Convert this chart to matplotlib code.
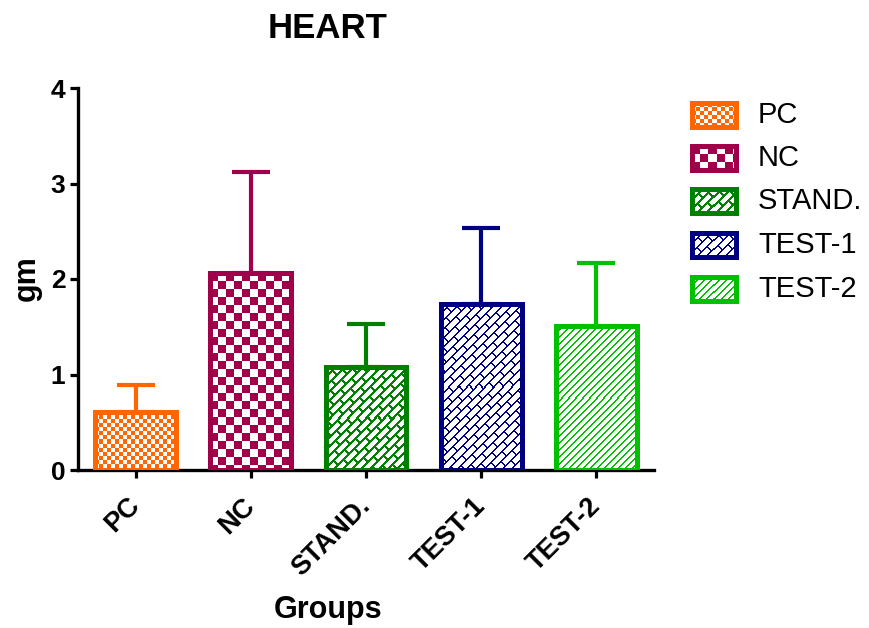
import numpy as np
import matplotlib
matplotlib.use("Agg")
import matplotlib.pyplot as plt
from matplotlib.patches import Rectangle

groups = ["PC", "NC", "STAND.", "TEST-1", "TEST-2"]
means = [0.61, 2.06, 1.08, 1.74, 1.51]
sds = [0.28, 1.06, 0.45, 0.79, 0.66]
y_ticks = [0, 1, 2, 3, 4]
colors = ["#FF6600", "#A0004A", "#008000", "#000080", "#00C000"]
patterns = ["check4", "check8", "brick_thick", "brick", "lines"]

plt.rcParams["font.family"] = ["Liberation Sans", "DejaVu Sans"]

W, H = 869, 628
fig = plt.figure(figsize=(W / 100, H / 100), dpi=100)
ax = fig.add_axes([78 / W, 1 - 470 / H, 576 / W, 382 / H])


def make_pattern(kind, nr, nc, color):
    i, j = np.mgrid[0:nr, 0:nc]
    if kind.startswith("check"):
        s = int(kind[5:])
        m = ((i // s + j // s) % 2) == 0
    elif kind == "lines":
        m = ((i + j) % 7) < 2
    else:
        t = 3 if kind == "brick_thick" else 2
        u = i + j
        r = u // 9
        v = (j - i) + (r % 2) * 11 + 1000
        m = ((u % 9) < t) | ((v % 22) < t)
    rgb = np.array(matplotlib.colors.to_rgb(color))
    img = np.ones((nr, nc, 3))
    img[m] = rgb
    return img


x = np.arange(len(groups))
width = 0.7
ax.set_xlim(-0.5, 4.5)
ax.set_ylim(0, 4)

# error bars go first so the stem starts under the bar edge
for xi, m, s, c in zip(x, means, sds, colors):
    ax.errorbar(xi, m, yerr=[[0], [s]], fmt="none", ecolor=c,
                elinewidth=3, capsize=14, capthick=3, zorder=1)

bars = ax.bar(x, means, width, color="white", edgecolor="none", zorder=2)
for bar, kind, c in zip(bars, patterns, colors):
    x0, y0 = bar.get_x(), bar.get_y()
    x1, y1 = x0 + bar.get_width(), y0 + bar.get_height()
    (px0, py0), (px1, py1) = ax.transData.transform([(x0, y0), (x1, y1)])
    img = make_pattern(kind, int(round(py1 - py0)), int(round(px1 - px0)), c)
    im = ax.imshow(img, extent=(x0, x1, y0, y1), aspect="auto",
                   interpolation="nearest", zorder=3)
    im.set_clip_path(bar)
ax.bar(x, means, width, fill=False, edgecolor=colors, linewidth=3.6, zorder=4)

ax.set_xlim(-0.5, 4.5)
ax.set_ylim(0, 4)
ax.set_yticks(y_ticks)
ax.set_yticklabels([str(v) for v in y_ticks], fontsize=19, fontweight="bold")
ax.set_xticks(x)
ax.set_xticklabels(groups, rotation=45, ha="right", va="center",
                   rotation_mode="anchor", fontsize=19.5, fontweight="bold")
ax.tick_params(axis="both", width=2.3, length=6, direction="out")
ax.tick_params(axis="x", pad=17)
ax.tick_params(axis="y", pad=3)
for side in ["top", "right"]:
    ax.spines[side].set_visible(False)
for side in ["left", "bottom"]:
    ax.spines[side].set_linewidth(2.4)

fig.text(328 / W, 1 - 28 / H, "HEART", ha="center", va="center",
         fontsize=25, fontweight="bold")
fig.text(328 / W, 1 - 610 / H, "Groups", ha="center", va="center",
         fontsize=22, fontweight="bold")
fig.text(27 / W, 1 - 278 / H, "gm", ha="center", va="center",
         fontsize=22, fontweight="bold", rotation=90)

# legend drawn by hand in pixel coordinates
lax = fig.add_axes([0, 0, 1, 1], zorder=5)
lax.set_xlim(0, W)
lax.set_ylim(H, 0)
lax.axis("off")
legend_y = [115, 158, 201, 245, 289]
for yc, name, kind, c in zip(legend_y, groups, patterns, colors):
    img = make_pattern(kind, 24, 43, c)
    lax.imshow(img, extent=(692, 736, yc + 12, yc - 12), aspect="auto",
               interpolation="nearest", zorder=1)
    lax.add_patch(Rectangle((692, yc - 12), 44, 24, fill=False,
                            edgecolor=c, linewidth=3.6, zorder=2))
    lax.text(758, yc, name, ha="left", va="center", fontsize=21)
lax.set_xlim(0, W)
lax.set_ylim(H, 0)

fig.savefig("out.png", dpi=100)
